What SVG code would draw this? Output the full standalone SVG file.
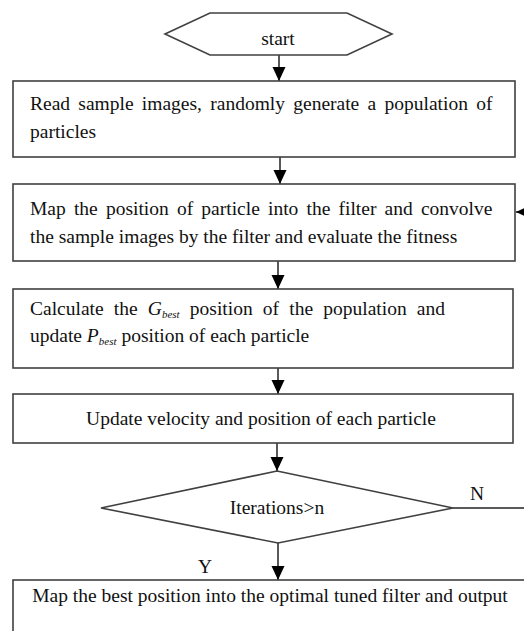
<svg xmlns="http://www.w3.org/2000/svg" width="524" height="631" viewBox="0 0 524 631">
<style>
.box{fill:#fff;stroke:#404040;stroke-width:1.6}
.ln{fill:none;stroke:#222;stroke-width:1.5}
.t{font-family:"Liberation Serif","Times New Roman",serif;font-size:19.5px;fill:#111}
.sub{font-size:11px;font-style:italic}
</style>
<defs>
<marker id="ah" viewBox="0 0 14 16" refX="14" refY="8" markerWidth="14" markerHeight="16" markerUnits="userSpaceOnUse" orient="auto">
<path d="M0,1.5 L14,8 L0,14.5 Z" fill="#000"/>
</marker>
</defs>
<rect width="524" height="631" fill="#fff"/>
<g id="connectors">
<path class="ln" d="M279,55 V81" marker-end="url(#ah)"/>
<path class="ln" d="M280,157 V184" marker-end="url(#ah)"/>
<path class="ln" d="M278,261 V289" marker-end="url(#ah)"/>
<path class="ln" d="M278,368 V394" marker-end="url(#ah)"/>
<path class="ln" d="M277,443 V471" marker-end="url(#ah)"/>
<path class="ln" d="M278,543 V580" marker-end="url(#ah)"/>
<path class="ln" d="M453,508 H524"/>
<path class="ln" d="M524,212 H516" marker-end="url(#ah)"/>
</g>
<g id="start">
<polygon class="box" points="165,34 210,13 347,13 392,34 347,55 210,55"/>
<text class="t" x="278" y="45" text-anchor="middle">start</text>
</g>
<g id="read">
<rect class="box" x="13" y="81" width="502" height="76"/>
<text class="t" x="30" y="110" word-spacing="3.4">Read sample images, randomly generate a population of</text>
<text class="t" x="30" y="138">particles</text>
</g>
<g id="map">
<rect class="box" x="13" y="184" width="502" height="77"/>
<text class="t" x="30" y="215" word-spacing="3.3">Map the position of particle into the filter and convolve</text>
<text class="t" x="30" y="243">the sample images by the filter and evaluate the fitness</text>
</g>
<g id="calc">
<rect class="box" x="13" y="289" width="500" height="79"/>
<text class="t" x="30" y="315" word-spacing="5.3">Calculate the <tspan font-style="italic">G</tspan><tspan class="sub" dy="3">best</tspan><tspan dy="-3"> position of the population and</tspan></text>
<text class="t" x="30" y="342">update <tspan font-style="italic">P</tspan><tspan class="sub" dy="3">best</tspan><tspan dy="-3"> position of each particle</tspan></text>
</g>
<g id="update">
<rect class="box" x="13" y="394" width="500" height="49"/>
<text class="t" x="261" y="425" text-anchor="middle">Update velocity and position of each particle</text>
</g>
<g id="decision">
<polygon class="box" points="277,471 453,508 278,543 101,508"/>
<text class="t" x="277" y="514" text-anchor="middle">Iterations&gt;n</text>
<text class="t" x="470" y="500">N</text>
<text class="t" x="205" y="573" text-anchor="middle">Y</text>
</g>
<g id="output">
<rect class="box" x="13" y="580" width="520" height="60"/>
<text class="t" x="270" y="602" text-anchor="middle">Map the best position into the optimal tuned filter and output</text>
</g>
</svg>
